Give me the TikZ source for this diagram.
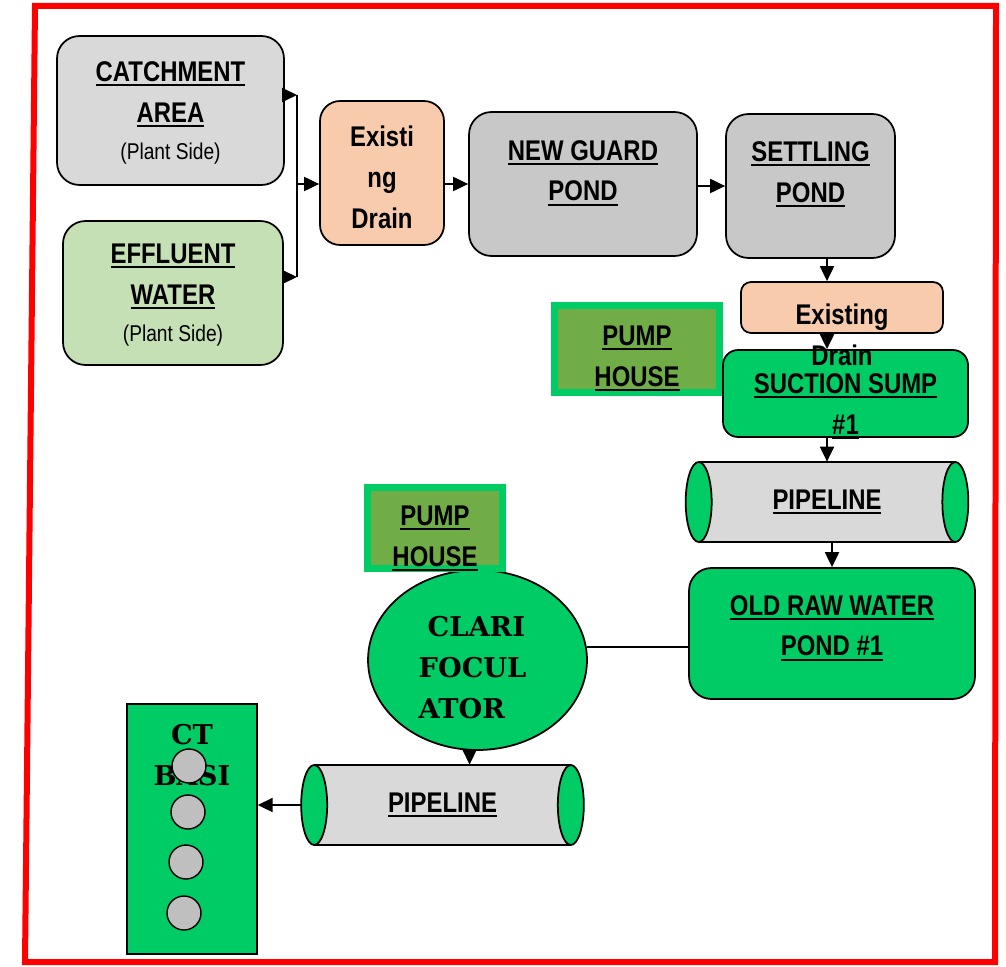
\documentclass[tikz,border=0pt]{standalone}
\usepackage{fontspec}
\setmainfont{Liberation Sans}[FakeStretch=0.84]
\newfontfamily\clarifont{DejaVu Serif}
\usetikzlibrary{arrows.meta,shapes.geometric}

\definecolor{borderred}{HTML}{FF0000}
\definecolor{catchgray}{HTML}{D9D9D9}
\definecolor{pondgray}{HTML}{C8C8C8}
\definecolor{effgreen}{HTML}{C5E0B4}
\definecolor{drainpeach}{HTML}{F8CBAD}
\definecolor{brightgreen}{HTML}{00CC66}
\definecolor{pumpgreen}{HTML}{70AD47}
\definecolor{holegray}{HTML}{BFBFBF}

\newcommand{\sidefont}{\fontsize{13pt}{15pt}\selectfont\mdseries}
\newsavebox{\ulbox}
\newcommand{\uln}[1]{\sbox{\ulbox}{#1}\leavevmode
  \rlap{\rule[-2.8pt]{\wd\ulbox}{1.1pt}}\usebox{\ulbox}}

\begin{document}
\begin{tikzpicture}[x=0.02cm,y=-0.02cm,
  box/.style={draw,line width=1pt,rounded corners=0.45cm,align=center,inner sep=2pt,
    font=\fontsize{16.2pt}{23.3pt}\selectfont\bfseries},
  boxtext/.style={align=center,inner sep=0pt,
    font=\fontsize{16.2pt}{23.3pt}\selectfont\bfseries},
  pump/.style={draw=brightgreen,line width=0.14cm,fill=pumpgreen,inner sep=0pt},
  pipe/.style={fill=catchgray,minimum width=5.12cm,minimum height=1.6cm,inner sep=0pt,
    font=\fontsize{16.2pt}{23.3pt}\selectfont\bfseries},
  serifbold/.style={font=\clarifont\fontsize{15.5pt}{23.3pt}\selectfont\bfseries,inner sep=0pt},
  hole/.style={circle,draw,line width=0.8pt,fill=holegray,minimum size=0.68cm,inner sep=0pt},
  edge/.style={line width=1pt},
  wire/.style={line width=1.1pt},
  flow/.style={-{Triangle[length=0.3cm,width=0.28cm]},line width=1.1pt}]
\useasboundingbox (0,0) rectangle (1006,966);
% red frame
\draw[borderred,line width=0.12cm,line join=miter]
  (35,6) -- (996,6) -- (995,962) -- (25,962) -- cycle;
% sources and ponds
\node[box,fill=catchgray,minimum width=4.54cm,minimum height=2.98cm,
  label={[boxtext,yshift=-0.04cm]center:{\uln{CATCHMENT}\\\uln{AREA}\\[-0.08cm]{\sidefont (Plant Side)}}}]
  (catch) at (170.5,110.5) {};
\node[box,fill=effgreen,minimum width=4.40cm,minimum height=2.88cm,
  label={[boxtext,yshift=-0.04cm]center:{\uln{EFFLUENT}\\\uln{WATER}\\[-0.08cm]{\sidefont (Plant Side)}}}]
  (eff) at (173,293) {};
\node[box,fill=drainpeach,rounded corners=0.4cm,minimum width=2.48cm,minimum height=2.88cm,
  label={[boxtext,yshift=-0.08cm]center:{Existi\\ng\\Drain}}] (drain1) at (382,173) {};
\node[box,fill=pondgray,minimum width=4.56cm,minimum height=2.88cm,
  label={[boxtext,yshift=0.22cm]center:{\uln{NEW GUARD}\\\uln{POND}}}] (ngp) at (583,184) {};
\node[box,fill=pondgray,minimum width=3.38cm,minimum height=2.88cm,
  label={[boxtext,yshift=0.23cm]center:{\uln{SETTLING}\\\uln{POND}}}] (settle) at (810.5,186) {};
\node[box,fill=drainpeach,rounded corners=0.2cm,minimum width=4.04cm,minimum height=1.02cm]
  (drain2) at (842,307.5) {};
\node[pump,minimum width=3.30cm,minimum height=1.74cm,
  label={[boxtext,yshift=-0.19cm]center:{\uln{PUMP}\\\uln{HOUSE}}}] (pump1) at (637,349) {};
\node[box,fill=brightgreen,rounded corners=0.3cm,minimum width=4.90cm,minimum height=1.74cm,
  label={[boxtext,yshift=-0.26cm]center:{\uln{SUCTION SUMP}\\\uln{\#1}}}] (sump)
  at (845.5,393.5) {};
\node[boxtext] (drain2text) at ([yshift=-0.55cm]drain2.center) {Existing\\Drain};
% first pipeline
\node[pipe] (pipe1) at (827,502) {\uln{PIPELINE}};
\draw[edge] (pipe1.north west) -- (pipe1.north east)
  (pipe1.south west) -- (pipe1.south east);
\draw[edge,fill=brightgreen] (pipe1.west) ellipse [x radius=0.26cm,y radius=0.8cm];
\draw[edge,fill=brightgreen] (pipe1.east) ellipse [x radius=0.26cm,y radius=0.8cm];
\node[box,fill=brightgreen,minimum width=5.72cm,minimum height=2.62cm,
  label={[boxtext,yshift=0.11cm]center:{\uln{OLD RAW WATER}\\\uln{POND \#1}}}] (orwp)
  at (832,633.5) {};
% clarifocculator
\node[ellipse,draw,line width=1pt,fill=brightgreen,minimum width=4.38cm,minimum height=3.6cm,
  inner sep=0pt,
  label={[serifbold,align=left,xshift=-0.1cm,yshift=-0.16cm]center:{\hspace*{0.18cm}CLARI\\FOCUL\\ATOR}}]
  (clari) at (477.5,660) {};
\node[pump,minimum width=2.70cm,minimum height=1.62cm,
  label={[boxtext,yshift=-0.21cm]center:{\uln{PUMP}\\\uln{HOUSE}}}] (pump2) at (435,528) {};
% second pipeline and basin
\node[pipe] (pipe2) at (442.5,805) {\uln{PIPELINE}};
\node[draw,line width=0.8pt,fill=brightgreen,minimum width=2.6cm,minimum height=5cm,
  inner sep=0pt] (ct) at (192,829) {};
\draw[flow] (pipe2.west) -- (ct.east |- pipe2.west);
\draw[edge] (pipe2.north west) -- (pipe2.north east)
  (pipe2.south west) -- (pipe2.south east);
\draw[edge,fill=brightgreen] (pipe2.west) ellipse [x radius=0.26cm,y radius=0.8cm];
\draw[edge,fill=brightgreen] (pipe2.east) ellipse [x radius=0.26cm,y radius=0.8cm];
\node[serifbold,align=center,anchor=north] (cttext) at ([yshift=-0.42cm]ct.north)
  {CT\\BASI};
\foreach \hx/\hy [count=\i] in {189/766,188/812,186/862,184/913}
  \node[hole] (hole\i) at (\hx,\hy) {};
% connectors
\coordinate (j1) at (297,95);
\coordinate (j2) at (297,277);
\coordinate (jm) at (297,184);
\coordinate (col) at (827,0);
\draw[flow] (catch.east |- j1) -- (j1);
\draw[flow] (eff.east |- j2) -- (j2);
\draw[wire] (j1) -- (j2);
\draw[flow] (jm) -- (jm -| drain1.west);
\draw[flow] (drain1.east |- ngp.west) -- (ngp.west);
\draw[flow] (ngp.east |- settle.west) -- (settle.west);
\draw[flow] (settle.south -| col) -- (drain2.north -| col);
\draw[flow] (drain2.south -| col) -- (sump.north -| col);
\draw[flow] (sump.south -| col) -- (pipe1.north -| col);
\draw[flow] (pipe1.south -| orwp.north) -- (orwp.north);
\draw[wire] (clari.7) -- (clari.7 -| orwp.west);
\draw[flow] (clari.265) -- (clari.265 |- pipe2.north);
\end{tikzpicture}
\end{document}
